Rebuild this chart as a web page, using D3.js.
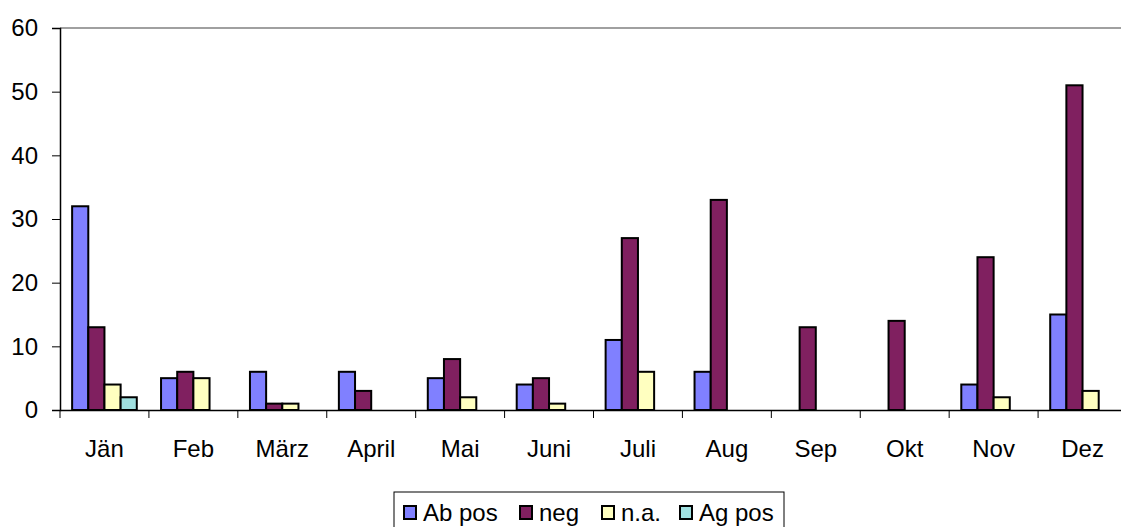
<!DOCTYPE html>
<html>
<head>
<meta charset="utf-8">
<script src="https://cdn.jsdelivr.net/npm/d3@7"></script>
<style>
  body { margin: 0; background: #fff; }
  svg { display: block; font-family: "Liberation Sans", Arial, sans-serif; }
</style>
</head>
<body>
<svg width="1121" height="527"></svg>
<script>
// months (categories)
let months = ['Jän', 'Feb', 'März', 'April', 'Mai', 'Juni', 'Juli', 'Aug', 'Sep', 'Okt', 'Nov', 'Dez'];
// series values per month
let abPos = [32, 5, 6, 6, 5, 4, 11, 6, 0, 0, 4, 15];
let neg   = [13, 6, 1, 3, 8, 5, 27, 33, 13, 14, 24, 51];
let na    = [4, 5, 1, 0, 2, 1, 6, 0, 0, 0, 2, 3];
let agPos = [2, 0, 0, 0, 0, 0, 0, 0, 0, 0, 0, 0];
let seriesNames = ['Ab pos', 'neg', 'n.a.', 'Ag pos'];
let yTicks = [0, 10, 20, 30, 40, 50, 60];

let colors = ['#8080FF', '#802060', '#FFFFC0', '#A0E0E0'];
let seriesVals = [abPos, neg, na, agPos];

let margin = { top: 28, left: 60 };
let plotRight = 1127;
let plotBottom = 410;
let fontFam = '"Liberation Sans", Arial, sans-serif';

let svg = d3.select('svg');

let xScale = d3.scaleBand()
  .domain(months)
  .range([margin.left, plotRight]);

let yScale = d3.scaleLinear()
  .domain([0, 60])
  .range([plotBottom, margin.top]);

// inner scale for the 4 slots in each month (gap width 150%)
let slot = xScale.bandwidth() / (4 + 1.5);
let inner = d3.scaleBand()
  .domain(seriesNames)
  .range([slot * 0.75, slot * 0.75 + slot * 4]);

// top border of plot area
svg.append('line')
  .attr('x1', margin.left).attr('x2', plotRight)
  .attr('y1', margin.top).attr('y2', margin.top)
  .attr('stroke', '#808080').attr('stroke-width', 1.5);

// bars
let rows = [];
months.forEach((m, i) => {
  seriesNames.forEach((s, j) => {
    if (seriesVals[j][i] > 0) rows.push({ month: m, series: s, value: seriesVals[j][i], ci: j });
  });
});

svg.append('g')
  .selectAll('rect')
  .data(rows)
  .enter()
  .append('rect')
  .attr('x', d => xScale(d.month) + inner(d.series))
  .attr('y', d => yScale(d.value))
  .attr('width', inner.bandwidth())
  .attr('height', d => yScale(0) - yScale(d.value))
  .attr('fill', d => colors[d.ci])
  .attr('stroke', '#000')
  .attr('stroke-width', 2);

// y axis
let yAxis = d3.axisLeft(yScale)
  .tickValues(yTicks)
  .tickSize(8)
  .tickPadding(14)
  .tickFormat(d3.format('d'));

let yg = svg.append('g')
  .attr('transform', 'translate(' + margin.left + ',0)')
  .call(yAxis);
yg.select('.domain').attr('stroke', '#000').attr('stroke-width', 1.5);
yg.selectAll('.tick line').attr('stroke', '#000');
yg.selectAll('.tick text').style('font-size', '24px').attr('fill', '#000')
  .style('font-family', fontFam);

// x axis
let xAxis = d3.axisBottom(xScale).tickSize(0).tickPadding(30);
let xg = svg.append('g')
  .attr('transform', 'translate(0,' + plotBottom + ')')
  .call(xAxis);
xg.select('.domain').attr('stroke', '#000').attr('stroke-width', 1.5);
xg.selectAll('.tick text').style('font-size', '24px').attr('fill', '#000')
  .style('font-family', fontFam);

// x tick marks at band boundaries
xg.selectAll('.sep')
  .data(months)
  .enter()
  .append('line')
  .attr('x1', d => xScale(d)).attr('x2', d => xScale(d))
  .attr('y1', 0).attr('y2', 8)
  .attr('stroke', '#000');

// legend
let legend = svg.append('g').attr('transform', 'translate(394,492)');
legend.append('rect')
  .attr('x', 0).attr('y', 0)
  .attr('width', 390).attr('height', 45)
  .attr('fill', '#fff').attr('stroke', '#000').attr('stroke-width', 1);

let legendX = [9, 125, 207, 285];
let items = legend.selectAll('.item')
  .data(seriesNames)
  .enter()
  .append('g')
  .attr('transform', (d, i) => 'translate(' + legendX[i] + ',0)');
items.append('rect')
  .attr('x', 1).attr('y', 14)
  .attr('width', 12).attr('height', 13)
  .attr('fill', (d, i) => colors[i])
  .attr('stroke', '#000').attr('stroke-width', 2);
items.append('text')
  .attr('x', 20).attr('y', 29)
  .style('font-size', '24px')
  .style('font-family', fontFam)
  .text(d => d);
</script>
</body>
</html>
